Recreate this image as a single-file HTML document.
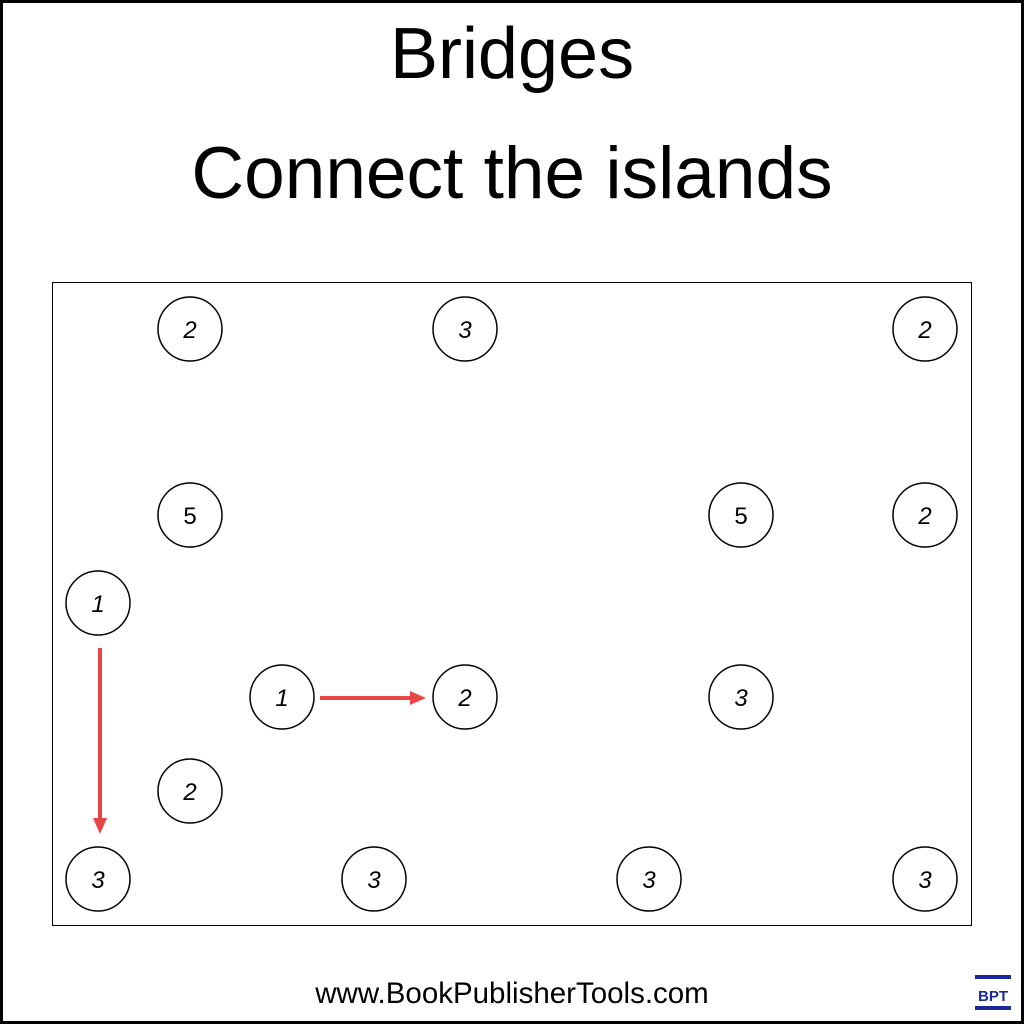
<!DOCTYPE html>
<html><head><style>
body{margin:0;background:#fff}
</style></head><body>
<svg width="1024" height="1024" viewBox="0 0 1024 1024" xmlns="http://www.w3.org/2000/svg">
<rect x="1.5" y="1.5" width="1021" height="1021" fill="#fff" stroke="#000" stroke-width="3"/>
<text x="512" y="78" font-family="Liberation Sans, sans-serif" font-size="72" text-anchor="middle">Bridges</text>
<text x="512" y="198" font-family="Liberation Sans, sans-serif" font-size="73" text-anchor="middle">Connect the islands</text>
<rect x="52.5" y="282.5" width="919" height="643" fill="none" stroke="#000" stroke-width="1"/>
<g fill="#fff" stroke="#000" stroke-width="1.5">
<circle cx="190" cy="329" r="32"/><circle cx="465" cy="329" r="32"/><circle cx="925" cy="329" r="32"/>
<circle cx="190" cy="515" r="32"/><circle cx="741" cy="515" r="32"/><circle cx="925" cy="515" r="32"/>
<circle cx="98" cy="603" r="32"/>
<circle cx="282" cy="697" r="32"/><circle cx="465" cy="697" r="32"/><circle cx="741" cy="697" r="32"/>
<circle cx="190" cy="791" r="32"/>
<circle cx="98" cy="879" r="32"/><circle cx="374" cy="879" r="32"/><circle cx="649" cy="879" r="32"/><circle cx="925" cy="879" r="32"/>
</g>
<g font-family="Liberation Sans, sans-serif" font-size="24" font-style="italic" text-anchor="middle">
<text x="190" y="338">2</text><text x="465" y="338">3</text><text x="925" y="338">2</text>
<text x="190" y="524" font-style="normal">5</text><text x="741" y="524" font-style="normal">5</text><text x="925" y="524">2</text>
<text x="98" y="612">1</text>
<text x="282" y="706">1</text><text x="465" y="706">2</text><text x="741" y="706">3</text>
<text x="190" y="800">2</text>
<text x="98" y="888">3</text><text x="374" y="888">3</text><text x="649" y="888">3</text><text x="925" y="888">3</text>
</g>
<g stroke="#e84545" stroke-width="4" fill="#e84545">
<line x1="320" y1="698" x2="412" y2="698"/>
<polygon points="410,691 426,698 410,705" stroke="none"/>
<line x1="100" y1="648" x2="100" y2="820"/>
<polygon points="93,818 100,834 107,818" stroke="none"/>
</g>
<text x="512" y="1003" font-family="Liberation Sans, sans-serif" font-size="29.5" text-anchor="middle">www.BookPublisherTools.com</text>
<rect x="975" y="975" width="36" height="4" fill="#1a2a9a"/>
<rect x="975" y="1006" width="36" height="4" fill="#1a2a9a"/>
<text x="993" y="1001" font-family="Liberation Sans, sans-serif" font-size="15" font-weight="bold" fill="#1a2a9a" text-anchor="middle">BPT</text>
</svg>
</body></html>
